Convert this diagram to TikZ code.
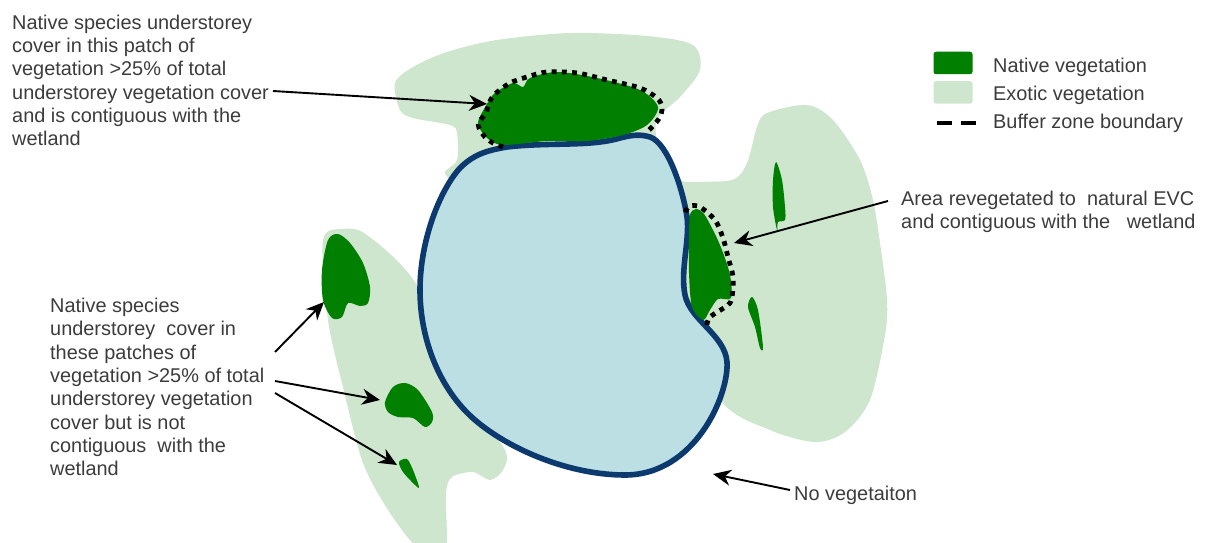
\documentclass[tikz,border=0pt]{standalone}
\usepackage{fontspec}
\setmainfont{Liberation Sans}
\usetikzlibrary{arrows.meta, positioning}

\definecolor{nativegreen}{HTML}{007F00}
\definecolor{exoticgreen}{HTML}{CDE6CD}
\definecolor{lakeblue}{HTML}{BBDFE3}
\definecolor{lakeline}{HTML}{0C3A6E}
\definecolor{labelgrey}{HTML}{3C3C3C}

\begin{document}
\begin{tikzpicture}[
        x=1pt, y=-1pt,
        exotic/.style={fill=exoticgreen, draw=none},
        native/.style={fill=nativegreen, draw=none},
        lake/.style={fill=lakeblue, draw=lakeline, line width=5.6pt},
        buffer/.style={draw=black, line width=4.8pt, dash pattern=on 4.8pt off 5.4pt},
        callout/.style={draw=black, line width=1.9pt, -{Stealth[length=18pt, width=16pt]}},
        label/.style={font=\fontsize{19.9}{23.3}\selectfont, text=labelgrey, align=left, inner sep=0pt, anchor=north west},
        swatch/.style={rectangle, rounded corners=2.5pt, minimum width=39pt, minimum height=22.5pt, inner sep=0pt}
    ]
        \useasboundingbox (0,0) rectangle (1205,543);

        % exotic vegetation
        \fill[exotic] plot[smooth cycle, tension=0.5] coordinates {(395,83) (413,67) (447,52) (497,40) (570,33) (647,36) (693,45) (700,70) (680,97) (657,120) (640,170) (470,180) (445,173) (457,160) (457,133) (450,125) (413,118) (400,110)};
        \fill[exotic] plot[smooth cycle, tension=0.5] coordinates {(767,113) (807,105) (833,120) (860,160) (873,200) (881,250) (887,300) (885,335) (870,400) (845,432) (815,442) (770,430) (720,400) (670,300) (672,185) (687,182) (732,180) (747,163) (757,127)};
        \fill[exotic] plot[smooth cycle, tension=0.5] coordinates {(323,240) (343,229) (367,235) (417,285) (470,400) (505,450) (503,470) (490,480) (473,472) (452,477) (446,493) (447,537) (445,550) (420,550) (390,513) (363,463) (343,387) (328,320)};

        % wetland
        \draw[lake] (507,147) .. controls (550,142) and (590,147) .. (620,138)
            .. controls (632,135) and (640,134) .. (650,137)
            .. controls (668,143) and (683,190) .. (687,217)
            .. controls (690,240) and (680,270) .. (685,295)
            .. controls (690,320) and (725,335) .. (727,362)
            .. controls (729,395) and (695,475) .. (625,475)
            .. controls (570,475) and (510,450) .. (475,420)
            .. controls (440,390) and (420,340) .. (420,290)
            .. controls (420,240) and (440,190) .. (460,168)
            .. controls (475,153) and (490,150) .. (507,147) -- cycle;

        % native vegetation
        \fill[native] plot[smooth cycle, tension=0.5] coordinates {(478,123) (487,104) (495,93) (513,83) (523,87) (530,78) (557,72) (597,78) (640,90) (658,107) (647,125) (623,135) (587,141) (547,141) (503,145) (487,138)};
        \fill[native] plot[smooth cycle, tension=0.5] coordinates {(690,215) (696,209) (704,214) (714,232) (722,250) (730,275) (731,298) (718,299) (710,310) (703,320) (692,307) (689,273) (689,240)};
        \fill[native] plot[smooth cycle, tension=0.5] coordinates {(776,162) (782,180) (785,207) (785,220) (778,222) (777,230) (773,207) (773,180)};
        \fill[native] plot[smooth cycle, tension=0.5] coordinates {(752,297) (758,310) (763,347) (760,348) (755,327) (748,307)};
        \fill[native] plot[smooth cycle, tension=0.5] coordinates {(322,270) (328,240) (338,234) (350,243) (363,263) (370,287) (368,303) (360,306) (348,303) (342,317) (332,318) (323,300)};
        \fill[native] plot[smooth cycle, tension=0.5] coordinates {(385,402) (393,387) (405,383) (418,390) (432,412) (432,422) (425,427) (413,418) (398,417) (388,412)};
        \fill[native] plot[smooth cycle, tension=0.5] coordinates {(399,462) (407,459) (413,470) (419,487) (415,485) (403,472)};

        % buffer zone
        \draw[buffer] plot[smooth, tension=0.5] coordinates {(503,147) (493,143) (485,137) (479,128) (479,122) (486,113) (489,103) (495,94) (510,83) (527,77) (547,72) (577,73) (607,80) (640,88) (657,98) (662,107) (660,117) (653,126) (647,132)};
        \draw[buffer] plot[smooth, tension=0.5] coordinates {(685,212) (690,206) (700,207) (715,220) (723,238) (728,257) (733,277) (732,297) (728,305) (710,317) (707,325)};

        % labels
        \node[label] (toplabel) at (12,14.5) {Native species understorey\\cover in this patch of\\vegetation >25\% of total\\understorey vegetation cover\\and is contiguous with the\\wetland};
        \node[label] (leftlabel) at (50,298) {Native species\\understorey\ \ cover in\\these patches of\\vegetation >25\% of total\\understorey vegetation\\cover but is not\\contiguous\ \ with the\\wetland};
        \node[label] (rightlabel) at (901,190.5) {Area revegetated to\ \ natural EVC\\and contiguous with the\ \ \ wetland};
        \node[label] (novegtext) at (794,485.5) {No vegetaiton};

        % legend
        \node[swatch, fill=nativegreen] (nativekey) at (953,63) {};
        \node[swatch, fill=exoticgreen, below=6.5pt of nativekey] (exotickey) {};
        \node[label, anchor=west] (nativetext) at (993,67) {Native vegetation};
        \node[label, anchor=west] (exotictext) at (993,95) {Exotic vegetation};
        \node[label, anchor=west] (buffertext) at (993,123) {Buffer zone boundary};
        \coordinate (bufferkeya) at (937,123);
        \coordinate (bufferkeyb) at (977,123);
        \draw[draw=black, line width=4.6pt, dash pattern=on 15pt off 9pt] (bufferkeya) -- (bufferkeyb);

        % arrows
        \coordinate (topfrom) at (273,91);
        \coordinate (topto) at (487,104);
        \coordinate (rightfrom) at (888,201);
        \coordinate (rightto) at (734,243);
        \coordinate (leftfroma) at (275,352);
        \coordinate (lefttoa) at (324,302);
        \coordinate (leftfromb) at (275,381);
        \coordinate (lefttob) at (380,400);
        \coordinate (leftfromc) at (275,393);
        \coordinate (lefttoc) at (397,465);
        \coordinate (novegfrom) at (790,490);
        \coordinate (novegto) at (713,474);

        \draw[callout] (topfrom) -- (topto);
        \draw[callout] (rightfrom) -- (rightto);
        \draw[callout] (leftfroma) -- (lefttoa);
        \draw[callout] (leftfromb) -- (lefttob);
        \draw[callout] (leftfromc) -- (lefttoc);
        \draw[callout] (novegfrom) -- (novegto);
    \end{tikzpicture}
\end{document}
